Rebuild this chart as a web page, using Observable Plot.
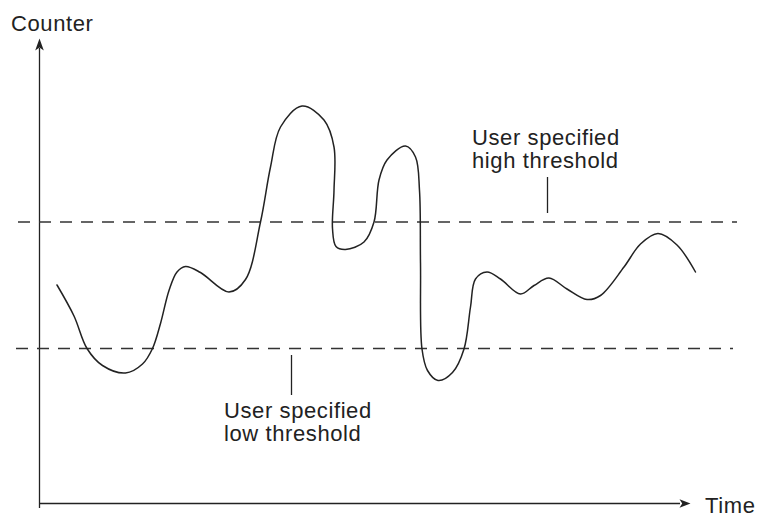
<!DOCTYPE html>
<html>
<head>
<meta charset="utf-8">
<script src="https://cdn.jsdelivr.net/npm/d3@7"></script>
<script src="https://cdn.jsdelivr.net/npm/@observablehq/plot@0.6"></script>
<style>
  body { margin: 0; background: #fff; }
  #chart svg text { letter-spacing: 0.6px; }
</style>
</head>
<body>
<div id="chart"></div>
<script>
// Counter signal over time
const curveTime = [3.5, 6.9, 9.5, 12.6, 17.2, 20.6, 22.6, 24.2, 25.9, 27.5, 29.2, 32.2, 37.9, 41.2, 44.2, 46.2, 48.2, 52.5, 56.9, 58.9, 58.9, 58.6, 59.3, 61.2, 64.9, 66.9, 67.9, 69.5, 73.2, 75.2, 76.0, 76.2, 76.5, 77.6, 79.7, 82.6, 84.9, 86.2, 87.2, 89.5, 92.2, 96.2, 98.9, 101.9, 105.5, 109.5, 112.2, 116.9, 120.2, 123.7, 127.5, 131.2];
const curveCounter = [43.7, 37.5, 31.0, 27.6, 26.1, 27.9, 31.0, 36.0, 42.6, 46.3, 47.4, 46.2, 42.3, 44.8, 56.3, 67.3, 75.3, 79.5, 76.7, 71.3, 62.6, 55.0, 51.4, 50.8, 52.3, 56.3, 64.7, 68.7, 71.5, 69.3, 62.6, 48.1, 30.9, 26.6, 24.6, 26.2, 30.9, 39.3, 44.9, 46.3, 44.9, 41.9, 43.6, 45.1, 42.9, 40.8, 41.6, 47.3, 51.9, 54.0, 51.7, 46.3];

// Thresholds
const thresholdNames = ["high", "low"];
const thresholdValues = [56.3, 31.0];
const thresholdStart = [-4.2, -4.6];
const thresholdEnd = [139.6, 138.8];

// Annotations
const labelTexts = ["User specified\nhigh threshold", "User specified\nlow threshold"];
const labelTime = [86.5, 36.9];
const labelCounter = [67.1, 12.6];
const leaderTime = [101.6, 50.4];
const leaderFrom = [58.0, 21.6];
const leaderTo = [65.2, 29.6];

// Axis titles
const axisTitles = ["Counter", "Time"];
const axisTitleTime = [-5.7, 133.1];
const axisTitleCounter = [94.6, -1.9];
const axisMaxTime = 130.2;
const axisMaxCounter = 93;

const curve = curveTime.map((t, i) => ({time: t, counter: curveCounter[i]}));
const thresholds = thresholdNames.map((n, i) => ({name: n, value: thresholdValues[i], x1: thresholdStart[i], x2: thresholdEnd[i]}));
const labels = labelTexts.map((s, i) => ({text: s, time: labelTime[i], counter: labelCounter[i]}));
const leaders = leaderTime.map((t, i) => ({time: t, y1: leaderFrom[i], y2: leaderTo[i]}));
const titles = axisTitles.map((s, i) => ({text: s, time: axisTitleTime[i], counter: axisTitleCounter[i]}));

const ink = "#222";
const arrowUp = {draw(ctx) { ctx.moveTo(0, 0); ctx.lineTo(-4.3, 12); ctx.lineTo(0, 9); ctx.lineTo(4.3, 12); ctx.closePath(); }};
const arrowRight = {draw(ctx) { ctx.moveTo(0, 0); ctx.lineTo(-11, -4.2); ctx.lineTo(-8.3, 0); ctx.lineTo(-11, 4.2); ctx.closePath(); }};

const chart = Plot.plot({
  width: 758,
  height: 517,
  margin: 0,
  x: {domain: [0, 130], range: [39, 689], axis: null},
  y: {domain: [0, 93], range: [503, 38], axis: null},
  style: {fontFamily: "'Liberation Sans', Arial, Helvetica, sans-serif", fontSize: "22px", background: "#fff", color: ink, overflow: "visible"},
  marks: [
    // axes
    Plot.ruleX([0], {y1: -1, y2: axisMaxCounter - 2, stroke: ink, strokeWidth: 1.3}),
    Plot.ruleY([0], {x1: 0, x2: axisMaxTime - 2, stroke: ink, strokeWidth: 1.3}),
    Plot.dot([{time: 0, counter: axisMaxCounter}], {x: "time", y: "counter", symbol: arrowUp, fill: ink, stroke: "none"}),
    Plot.dot([{time: axisMaxTime, counter: 0}], {x: "time", y: "counter", symbol: arrowRight, fill: ink, stroke: "none"}),
    // thresholds
    Plot.ruleY(thresholds, {y: "value", x1: "x1", x2: "x2", stroke: "#333", strokeWidth: 1.3, strokeDasharray: "12,9"}),
    // leader lines
    Plot.ruleX(leaders, {x: "time", y1: "y1", y2: "y2", stroke: ink, strokeWidth: 1.3}),
    // signal
    Plot.line(curve, {x: "time", y: "counter", curve: "catmull-rom", stroke: ink, strokeWidth: 1.5}),
    // labels
    Plot.text(labels, {x: "time", y: "counter", text: "text", textAnchor: "start", lineAnchor: "bottom", lineHeight: 1.045, fontSize: 22, fill: ink}),
    Plot.text(titles, {x: "time", y: "counter", text: "text", textAnchor: "start", lineAnchor: "bottom", fontSize: 22, fill: ink})
  ]
});
document.getElementById("chart").appendChild(chart);
</script>
</body>
</html>
